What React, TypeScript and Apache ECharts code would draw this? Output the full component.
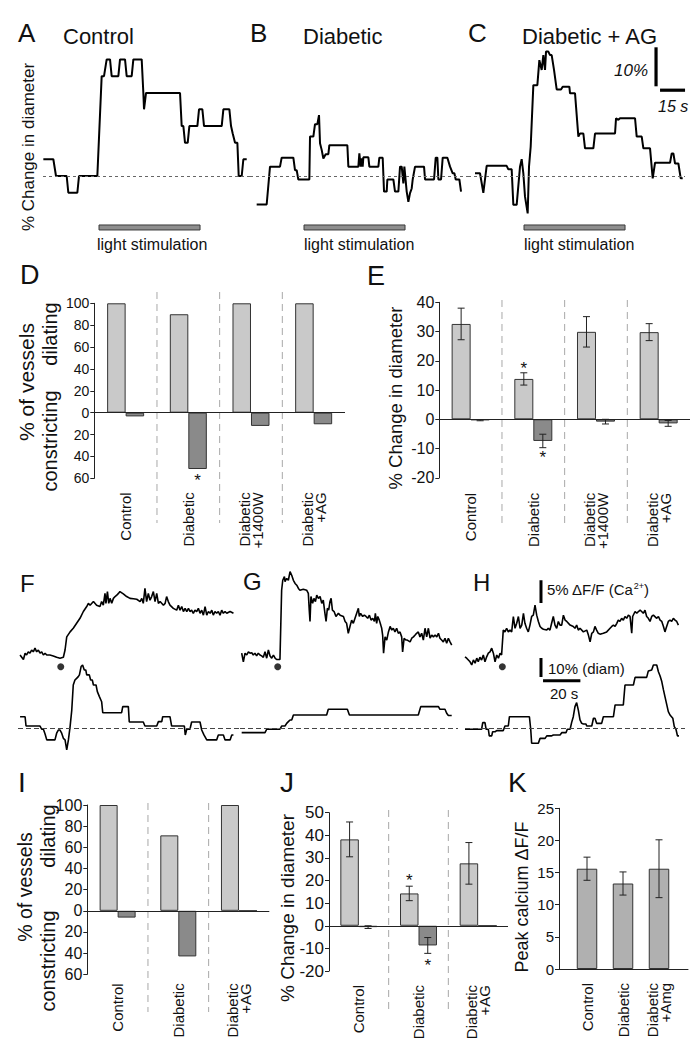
import React, { useEffect, useRef } from 'react';
import * as echarts from 'echarts';

const FONT = '"Liberation Sans", Arial, Helvetica, sans-serif';
type P = [number, number];

// ---------- A–C: diameter traces (time s, % change in diameter) ----------
const traceControl: P[] = [
  [0.2, 4.3], [6.2, 4.3], [7.8, 0], [14.2, 0], [15.2, -4.3], [20.6, -4.3], [21.6, 0], [32.6, 0],
  [35.2, 25.6], [36.6, 25.6], [38.2, 29.9], [40.2, 29.9], [41.2, 25.6], [45.2, 25.6], [46.2, 29.9],
  [49.2, 29.9], [50.2, 25.6], [53.2, 25.6], [54.2, 29.9], [59.2, 29.9], [60.2, 21.3], [60.6, 17.1],
  [61.8, 21.3], [82.2, 21.3], [83.2, 12.8], [84.2, 12.8], [85.2, 8.5], [86.8, 8.5], [87.8, 12.8],
  [92.6, 12.8], [93.6, 17.1], [95.6, 17.1], [96.6, 12.8], [107.2, 12.8], [108.2, 17.1], [111.8, 17.1],
  [112.8, 12.8], [113.8, 10.9], [115.2, 8.5], [116.6, 8.5], [117.4, 0], [119.2, 0], [120.2, 4.3], [122.2, 4.3],
];
const traceDiabetic: P[] = [
  [4, -7.3], [10, -7.3], [12, 2.4], [18, 2.4], [19, 4.7], [26, 4.7], [27, 1.5], [28, 1.5], [29, -0.9],
  [35.6, -0.9], [36, 10.1], [38, 10.1], [39, 13.3], [40.4, 13.3], [41.4, 15.6], [42, 8.4], [43, 6.7],
  [44, 4.5], [45.4, 5.6], [47, 5.6], [47.6, 7.9], [58.4, 7.9], [59, 2.4], [65, 2.4], [65.6, 5.8],
  [66.4, 2.4], [67, 4.5], [67.6, 2.4], [68, 4.8], [71, 4.8], [71.6, 2.4], [77, 2.4], [77.6, 4.7],
  [79.6, 4.7], [80.4, -4], [82, -4], [82.4, -0.9], [86, -0.9], [87, -4], [89, -4], [90, 2.4], [91, 2.4],
  [92, -1.9], [92.6, 2.4], [94, -4], [95, -6.6], [96, -4.4], [97, -3.2], [97.6, -0.9], [99, 2.4],
  [104.4, 2.4], [105, -0.9], [110.4, -0.9], [111.4, 4.7], [112.4, 4.7], [113, -0.9], [114.6, -0.9],
  [115.6, 4.7], [118.4, 4.7], [120, 2.4], [121.6, 0.7], [122.6, 0.7], [123.4, -0.9], [125.6, -0.9], [126.6, -4],
];
const traceDiabeticAG: P[] = [
  [4.2, 0.7], [7.2, 0.7], [9.2, -4.3], [11.2, 2.6], [23.2, 2.6], [24.2, 1.7], [26.2, 1.7], [27.2, -7.4],
  [29.2, -7.4], [31.2, 2.4], [32.2, 4.3], [33.2, 0.7], [34.2, -5.3], [35.8, -9.6], [36.6, 2.4], [37.6, 7.5],
  [39.2, 23.3], [41.6, 23.3], [42.8, 29.7], [44.2, 27.2], [45.2, 31.0], [46.2, 27.2], [46.8, 31.9],
  [48.2, 31.9], [49.2, 31.0], [50.2, 31.0], [51.6, 27.2], [53.2, 22.2], [55.8, 22.2], [56.8, 22.9],
  [60.8, 22.9], [61.2, 21.2], [64.2, 21.2], [66.2, 10.1], [67.2, 10.9], [69.2, 10.9], [70.2, 7.1],
  [75.2, 7.1], [76.2, 10.9], [88.2, 10.9], [88.8, 14.8], [90.2, 14.4], [91.2, 14.8], [100.2, 14.8],
  [101.2, 10.1], [104.2, 10.1], [105.2, 7.1], [109.2, 7.1], [110.8, -0.6], [112.2, 3.4], [121.2, 3.4],
  [122.2, 5.8], [123.2, 5.8], [124.2, 3.2], [126.2, 3.2], [127.6, -0.6], [128.8, -0.6],
];
const lightA = [33.6, 94.2];
const lightB = [32.4, 93.0];
const lightC = [33.6, 94.2];
const scaleDiamPct = 10; // % scale bar
const scaleTimeSec = 15; // s scale bar

// ---------- D / E ----------
const catsDE = ['Control', 'Diabetic', 'Diabetic\n+1400W', 'Diabetic\n+AG'];
const dDilating = [100, 90, 100, 100];
const dConstricting = [-3.4, -51.5, -12.1, -10.6];
const eDilMean = [32.6, 13.8, 29.9, 29.8];
const eDilErr = [5.4, 2.1, 5.2, 2.9];
const eConMean = [-0.3, -7.4, -0.8, -1.4];
const eConErr = [0.2, 2.3, 0.8, 1.0];

// ---------- F–H: calcium (ΔF/F %) and diameter (%) traces ----------
const caF: P[] = [
  [1.1, 0], [2.0, -0.5], [2.9, -1.0], [3.8, 0.4], [4.6, 0], [5.5, 0.7], [6.4, 0.4], [7.3, 1.1], [8.2, 0.7],
  [9.1, 1.5], [10.0, 0.7], [10.9, 1.1], [11.8, 0.4], [12.7, 0.7], [13.6, 0], [14.5, 0.4], [15.4, 0],
  [17.1, 0], [18.9, -0.2], [20.7, -0.5], [22.5, -0.7], [24.3, -0.5], [25.2, 1.1], [26.1, 4.0], [27.9, 5.1],
  [29.6, 5.9], [31.4, 7.0], [33.2, 8.1], [35.0, 9.6], [36.8, 10.7], [37.7, 11.4], [38.6, 11.0], [40.4, 11.8],
  [42.1, 11.0], [43.9, 10.7], [44.8, 11.8], [45.7, 11.0], [46.6, 13.6], [47.1, 11.4], [47.9, 14.0],
  [48.6, 11.4], [49.3, 12.5], [50.2, 11.4], [51.1, 12.5], [52.0, 12.9], [52.9, 13.2], [53.8, 13.6],
  [54.6, 14.0], [56.4, 13.5], [58.2, 12.9], [60.0, 12.5], [61.8, 12.4], [63.6, 12.3], [65.4, 11.8],
  [66.3, 12.5], [67.1, 11.4], [68.0, 14.7], [68.9, 11.8], [69.8, 13.6], [70.7, 12.1], [71.6, 12.9],
  [72.5, 14.0], [73.4, 11.8], [74.3, 13.6], [75.2, 11.4], [76.1, 11.8], [77.9, 11.0], [78.8, 11.4],
  [79.6, 12.9], [80.5, 11.8], [81.4, 11.0], [83.2, 10.3], [85.0, 9.9], [85.9, 11.0], [86.8, 9.9],
  [87.7, 10.7], [88.6, 9.6], [89.5, 10.3], [90.4, 9.6], [91.3, 10.3], [92.1, 9.6], [93.0, 9.9], [93.9, 9.2],
  [94.8, 9.9], [95.7, 9.6], [96.6, 10.3], [97.5, 9.2], [98.4, 9.9], [99.3, 8.8], [100.2, 10.7], [101.1, 8.8],
  [102.0, 9.6], [102.9, 9.2], [103.8, 9.9], [104.6, 8.8], [105.5, 9.6], [106.4, 9.2], [107.3, 9.6],
  [108.2, 8.8], [109.1, 9.9], [110.0, 9.2], [110.9, 9.6], [111.8, 9.2], [113.6, 9.6], [115.4, 9.2],
];
const diamF: P[] = [
  [1.1, 6.1], [3.8, 6.1], [4.3, 1.2], [11.8, 1.2], [12.7, -0.5], [13.6, -0.5], [14.5, -3.0], [15.4, -6.1],
  [19.8, -6.1], [20.7, -2.6], [21.6, -0.9], [22.5, -0.9], [23.4, -2.6], [24.3, -5.3], [25.2, -6.1],
  [26.1, -11.4], [27.0, -6.1], [27.9, 0.9], [28.8, 9.6], [29.6, 22.8], [30.5, 25.4], [31.4, 26.3],
  [32.3, 27.2], [32.9, 28.1], [33.8, 32.5], [34.6, 33.3], [35.5, 30.7], [36.3, 30.7], [36.8, 28.1],
  [38.2, 28.1], [38.9, 25.4], [39.8, 25.4], [40.4, 22.8], [41.8, 22.8], [42.5, 19.3], [43.6, 16.7],
  [44.8, 14.0], [45.4, 8.2], [55.5, 8.2], [56.1, 11.4], [59.1, 11.4], [59.6, 3.3], [67.1, 3.3], [68.0, 1.2],
  [74.3, 1.2], [75.2, 3.5], [77.0, 3.5], [77.5, 6.1], [81.4, 6.1], [82.3, 1.2], [89.1, 1.2], [89.6, -3.5],
  [90.4, -0.5], [92.1, -0.5], [93.0, 3.3], [97.5, 3.3], [98.4, -0.9], [99.6, -3.5], [101.1, -6.1],
  [106.4, -6.1], [107.3, -3.5], [110.0, -3.5], [110.9, -6.1], [113.6, -6.1], [114.5, -3.5], [115.4, -3.5],
];
const caG: P[] = [
  [0.9, 0.4], [1.8, -1.5], [2.7, 0.4], [3.6, 0], [4.5, 0.7], [5.4, 0.4], [6.3, 0.5], [7.1, 0], [8.0, 0.4],
  [8.9, -0.2], [9.8, 0.4], [10.7, 0], [11.6, -0.2], [12.5, -0.5], [13.4, 0.7], [14.3, -0.7], [15.2, 1.1],
  [16.1, -0.2], [17.0, -0.7], [17.9, 0], [18.8, -0.7], [19.6, -1.0], [21.4, -1.0], [22.3, 14.3], [22.9, 16.5],
  [23.8, 17.3], [24.1, 16.2], [25.0, 16.9], [25.9, 16.5], [26.8, 18.4], [27.7, 17.6], [28.6, 16.5],
  [29.5, 15.8], [30.4, 15.4], [31.3, 14.7], [32.1, 14.3], [33.9, 14.5], [35.7, 14.3], [36.6, 13.6],
  [37.1, 9.9], [37.5, 7.4], [38.0, 12.9], [38.9, 11.4], [39.6, 12.5], [40.4, 11.8], [41.1, 13.2],
  [42.0, 12.5], [42.9, 12.9], [43.8, 11.4], [44.6, 12.1], [45.5, 9.2], [46.1, 7.4], [46.8, 10.3],
  [47.5, 9.9], [48.2, 11.8], [48.8, 12.5], [49.5, 9.9], [50.4, 9.6], [51.4, 8.5], [52.7, 9.2], [53.6, 8.8],
  [55.4, 8.5], [56.3, 7.4], [57.1, 7.0], [58.0, 4.8], [58.9, 6.3], [59.8, 7.7], [60.7, 7.0], [61.6, 8.1],
  [62.5, 9.2], [63.4, 10.3], [63.9, 8.5], [64.6, 9.2], [65.7, 8.5], [66.6, 8.8], [67.5, 8.5], [68.4, 8.1],
  [69.3, 8.8], [70.2, 7.7], [71.1, 8.1], [72.0, 7.4], [72.5, 9.2], [73.2, 7.0], [73.8, 8.5], [74.6, 7.7],
  [75.4, 6.6], [75.9, 5.9], [76.4, 4.4], [76.9, 0.4], [77.7, 4.0], [78.6, 3.3], [79.5, 5.1], [80.4, 6.3],
  [81.3, 5.5], [82.1, 5.9], [83.0, 5.1], [83.9, 5.9], [84.8, 4.8], [85.7, 5.1], [86.6, 4.0], [87.1, 0.7],
  [87.9, 3.7], [88.8, 3.3], [89.6, 3.3], [91.1, 2.9], [92.0, 3.7], [92.9, 4.0], [93.8, 4.4], [94.6, 4.8],
  [95.5, 5.1], [96.4, 4.0], [97.3, 4.8], [98.2, 3.3], [99.1, 5.9], [100.0, 4.0], [100.9, 5.9], [101.8, 3.7],
  [102.7, 4.4], [103.6, 4.0], [104.5, 4.4], [105.4, 4.0], [106.3, 4.8], [107.1, 3.7], [108.0, 3.3],
  [108.9, 2.9], [109.8, 3.7], [110.7, 2.6], [111.6, 3.7], [112.5, 2.9], [113.4, 2.2],
];
const diamG: P[] = [
  [0.9, -2.3], [13.4, -2.3], [14.3, -0.5], [21.4, -0.5], [22.3, 1.2], [24.1, 1.2], [25.0, 2.6], [25.9, 3.5],
  [26.8, 4.4], [27.7, 4.4], [28.6, 7.0], [46.4, 7.0], [47.3, 10.0], [57.5, 10.0], [58.6, 7.0], [95.5, 7.0],
  [96.8, 11.4], [106.3, 11.4], [107.1, 10.0], [109.8, 10.0], [110.7, 7.9], [111.6, 6.7], [113.4, 6.7],
];
const caH: P[] = [
  [0, -0.4], [0.9, -0.7], [1.8, -1.1], [2.7, -1.5], [3.6, -2.2], [4.5, -1.1], [5.4, -1.8], [6.3, -0.7],
  [7.1, -1.5], [8.0, -0.5], [8.9, -1.1], [9.8, 0], [10.7, -1.5], [11.6, -0.4], [12.5, 0.4], [13.4, 0.7],
  [14.3, 1.5], [15.2, 0.4], [16.1, -1.5], [17.0, 0], [17.9, -0.7], [18.8, 0.4], [19.6, 0], [20.5, 5.5],
  [21.4, 5.1], [22.3, 5.9], [23.2, 5.1], [24.1, 5.5], [25.0, 5.1], [25.9, 8.5], [26.8, 5.9], [27.7, 7.0],
  [28.6, 8.5], [29.5, 5.9], [30.4, 6.6], [31.3, 9.2], [32.1, 7.0], [33.0, 5.9], [33.9, 5.1], [34.8, 6.6],
  [35.7, 8.5], [36.6, 8.8], [37.5, 11.0], [38.4, 8.8], [39.3, 7.4], [40.2, 6.3], [41.1, 5.9], [42.0, 5.7],
  [43.8, 5.5], [44.6, 5.9], [45.5, 5.5], [46.4, 7.0], [47.3, 8.5], [48.2, 6.6], [49.1, 5.9], [50.0, 7.4],
  [50.9, 6.6], [51.8, 6.6], [52.7, 8.8], [53.6, 7.7], [54.5, 7.4], [56.3, 6.6], [58.0, 6.3], [58.9, 5.9],
  [59.8, 6.6], [60.7, 5.5], [61.6, 5.9], [63.4, 5.1], [65.2, 5.5], [66.1, 4.4], [67.0, 2.9], [67.9, 4.8],
  [68.8, 5.1], [69.6, 6.3], [70.5, 5.5], [71.4, 4.8], [72.3, 4.6], [74.1, 4.8], [75.9, 5.1], [77.7, 5.9],
  [78.6, 6.3], [79.5, 6.6], [80.4, 6.3], [81.3, 7.0], [82.1, 7.7], [83.0, 7.4], [83.9, 8.1], [84.8, 7.7],
  [85.7, 8.5], [86.6, 8.1], [87.5, 8.8], [88.4, 8.5], [89.3, 4.8], [89.8, 8.5], [91.1, 9.6], [92.0, 9.2],
  [92.9, 9.6], [93.8, 9.9], [94.6, 9.6], [95.5, 9.2], [96.4, 9.9], [97.3, 8.5], [98.2, 8.1], [99.1, 7.4],
  [100.0, 8.5], [100.9, 8.8], [102.7, 8.1], [103.6, 8.5], [104.5, 7.7], [105.4, 7.4], [106.3, 6.3],
  [107.1, 5.1], [107.7, 5.9], [108.9, 7.4], [109.8, 7.7], [110.7, 7.4], [111.6, 8.1], [112.5, 7.7],
  [113.4, 7.4], [114.3, 6.6],
];
const diamH: P[] = [
  [0, -0.5], [8.9, -0.5], [9.5, 3.0], [10.7, 3.0], [11.3, -0.5], [12.5, -0.5], [13.0, -4.0], [14.3, -4.0],
  [14.8, -1.8], [16.1, -1.8], [17.0, -1.2], [20.5, -1.2], [21.4, 1.2], [23.2, 1.2], [23.8, 6.1], [34.5, 6.1],
  [35.2, -0.5], [35.7, -7.9], [39.3, -7.9], [40.2, -5.3], [42.9, -5.3], [43.8, -4.0], [46.4, -4.0],
  [47.3, -3.5], [50.9, -3.5], [51.8, -2.3], [54.1, -2.3], [54.8, -0.5], [56.3, -0.5], [57.1, 3.0],
  [58.0, 6.1], [58.9, 11.4], [59.8, 13.5], [60.7, 9.6], [61.6, 4.4], [62.5, 2.6], [63.4, 2.3], [64.8, 2.3],
  [65.2, 1.2], [67.9, 1.2], [68.8, 5.3], [69.6, 5.3], [70.5, 2.6], [73.2, 2.6], [74.1, 6.1], [79.5, 6.1],
  [80.4, 12.3], [84.8, 12.3], [85.7, 22.8], [90.2, 22.8], [91.1, 26.8], [97.3, 26.8], [98.2, 30.2],
  [100.0, 30.7], [100.9, 33.3], [102.7, 33.3], [103.6, 29.8], [104.5, 27.5], [105.4, 24.6], [106.3, 20.2],
  [107.1, 16.7], [108.9, 8.8], [109.8, 7.0], [111.3, 5.3], [112.1, 0.9], [113.0, -0.5], [113.8, -4.0], [114.6, -4.0],
];
const stimF: P = [22.9, -2.6];
const stimG: P = [20.2, -2.6];
const stimH: P = [20.0, -2.6];
const scaleCaPct = 5;
const scaleDiamPctH = 10;
const scaleTimeSecH = 20;

// ---------- I / J / K ----------
const catsIJ = ['Control', 'Diabetic', 'Diabetic\n+AG'];
const iDilating = [100, 71.3, 100];
const iConstricting = [-6.4, -43.1, 0];
const jDilMean = [38.2, 14.3, 27.6];
const jDilErr = [7.7, 3.2, 9.2];
const jConMean = [-0.6, -8.7, 0];
const jConErr = [0.6, 3.5, 0];
const catsK = ['Control', 'Diabetic', 'Diabetic\n+Amg'];
const kMean = [15.6, 13.3, 15.6];
const kErr = [1.8, 1.8, 4.5];

// ---------------------------------------------------------------
const LIGHT = '#c9c9c9';
const DARK = '#8a8a8a';
const KFILL = '#b0b0b0';
const EDGE = '#333';
const INK = '#111';

function buildOption() {
  const grid: any[] = [];
  const xAxis: any[] = [];
  const yAxis: any[] = [];
  const series: any[] = [];
  const graphic: any[] = [];

  const hidden = (min: number, max: number) => ({ type: 'value', min, max, show: false });
  const addGrid = (rect: any, x: any, y: any) => {
    const i = grid.length;
    grid.push({ ...rect, containLabel: false });
    xAxis.push({ gridIndex: i, ...x });
    yAxis.push({ gridIndex: i, ...y });
    return i;
  };
  const txt = (text: string, x: number, y: number, size: number, o: any = {}) => {
    graphic.push({
      type: 'text', x, y, rotation: o.rot || 0, silent: true,
      style: {
        text, fontSize: size, fontFamily: FONT, fill: INK,
        align: o.align || 'left', verticalAlign: 'middle',
        fontStyle: o.italic ? 'italic' : 'normal', rich: o.rich,
      },
    });
  };
  const line = (i: number, data: any[], width: number, base?: any) => {
    const s: any = {
      type: 'line', xAxisIndex: i, yAxisIndex: i, data, symbol: 'none', silent: true, z: 4,
      lineStyle: { color: '#000', width, cap: 'butt' },
    };
    if (base) {
      s.markLine = {
        symbol: ['none', 'none'], silent: true, label: { show: false },
        lineStyle: { color: base.color, width: 1, type: base.dash }, data: [{ yAxis: 0 }],
      };
    }
    series.push(s);
  };
  const lightBar = (i: number, span: number[], level: number) => {
    series.push({
      type: 'custom', xAxisIndex: i, yAxisIndex: i, data: [span], silent: true,
      renderItem: (_p: any, api: any) => {
        const a = api.coord([api.value(0), level]);
        const b = api.coord([api.value(1), level]);
        return {
          type: 'rect', shape: { x: a[0], y: a[1] - 2.5, width: b[0] - a[0], height: 5 },
          style: { fill: '#8e8e8e', stroke: '#3a3a3a', lineWidth: 1 },
        };
      },
    });
  };

  // ---------------- A–C ----------------
  const pxSec1 = 1.667;
  const topRect = (left: number, width: number) => ({ left, top: 39.5, width, height: 195 });
  const baseTop = { color: '#666', dash: [3, 3] };
  const gA = addGrid(topRect(43, 207), hidden(0, 207 / pxSec1), hidden(-15, 35));
  const gB = addGrid(topRect(250, 218), hidden(0, 218 / pxSec1), hidden(-15, 35));
  const gC = addGrid(topRect(468, 217), hidden(0, 217 / pxSec1), hidden(-15, 35));
  line(gA, traceControl, 2, baseTop);
  line(gB, traceDiabetic, 2, baseTop);
  line(gC, traceDiabeticAG, 2, baseTop);
  lightBar(gA, lightA, -13.2);
  lightBar(gB, lightB, -13.2);
  lightBar(gC, lightC, -13.2);
  line(gC, [[112.8, 23], [112.8, 23 + scaleDiamPct]], 3.2);
  line(gC, [[115.2, 22], [115.2 + scaleTimeSec, 22]], 3.2);

  txt('A', 18, 33, 26);
  txt('Control', 63, 36, 22);
  txt('B', 250, 33, 26);
  txt('Diabetic', 303, 36, 22);
  txt('C', 468, 33, 26);
  txt('Diabetic + AG', 522, 36, 22);
  txt('% Change in diameter', 28, 147, 17, { rot: Math.PI / 2, align: 'center' });
  txt('light stimulation', 97, 244, 16);
  txt('light stimulation', 304, 244, 16);
  txt('light stimulation', 524, 244, 16);
  txt('10%', 648, 70, 17, { italic: true, align: 'right' });
  txt('15 s', 658, 106, 16, { italic: true });

  // ---------------- bar panel helpers ----------------
  const yAx = (min: number, max: number, interval: number, size: number, abs = false, offset = 0) => ({
    type: 'value', min, max, interval, offset,
    axisLine: { show: true, onZero: false, lineStyle: { color: '#222', width: 1 } },
    axisTick: { show: true, length: 4, lineStyle: { color: '#222' } },
    splitLine: { show: false },
    axisLabel: {
      fontSize: size, fontFamily: FONT, color: INK, margin: 5,
      formatter: abs ? (v: number) => String(Math.abs(v)) : undefined,
    },
  });
  const xCat = (cats: string[], margin: number) => ({
    type: 'category', data: cats,
    axisLine: { show: false, onZero: false }, axisTick: { show: false },
    axisLabel: { rotate: 90, margin, interval: 0, fontSize: 15, fontFamily: FONT, color: INK, lineHeight: 13 },
  });
  const bars = (i: number, data: number[], color: string, width: number, zero = false) => {
    const s: any = {
      type: 'bar', xAxisIndex: i, yAxisIndex: i, data, barWidth: width, barGap: '0%', silent: true,
      itemStyle: { color, borderColor: EDGE, borderWidth: 1 }, z: 2,
    };
    if (zero) {
      s.markLine = {
        symbol: ['none', 'none'], silent: true, label: { show: false },
        lineStyle: { color: '#222', width: 1, type: 'solid' }, data: [{ yAxis: 0 }],
      };
    }
    series.push(s);
  };
  const errBars = (i: number, mean: number[], err: number[], offset: number) => {
    const data = mean.map((m, k) => [k, m - err[k], m + err[k]]).filter((d, k) => err[k] > 0);
    series.push({
      type: 'custom', xAxisIndex: i, yAxisIndex: i, data, silent: true, z: 5,
      renderItem: (_p: any, api: any) => {
        const lo = api.coord([api.value(0), api.value(1)]);
        const hi = api.coord([api.value(0), api.value(2)]);
        const cx = lo[0] + offset;
        const st = { stroke: '#222', lineWidth: 1 };
        return {
          type: 'group', children: [
            { type: 'line', shape: { x1: cx, y1: lo[1], x2: cx, y2: hi[1] }, style: st },
            { type: 'line', shape: { x1: cx - 3.5, y1: hi[1], x2: cx + 3.5, y2: hi[1] }, style: st },
            { type: 'line', shape: { x1: cx - 3.5, y1: lo[1], x2: cx + 3.5, y2: lo[1] }, style: st },
          ],
        };
      },
    });
  };
  const stars = (i: number, data: number[][], offset: number, gap: number) => {
    series.push({
      type: 'custom', xAxisIndex: i, yAxisIndex: i, data, silent: true, z: 6,
      renderItem: (_p: any, api: any) => {
        const p = api.coord([api.value(0), api.value(1)]);
        return {
          type: 'text', x: p[0] + offset, y: p[1] + gap,
          style: { text: '*', fontSize: 17, fontFamily: FONT, fill: INK, align: 'center', verticalAlign: 'middle' },
        };
      },
    });
  };
  const separators = (rect: any, n: number) => {
    const i = addGrid(rect, hidden(-0.5, n - 0.5), hidden(0, 1));
    const seps = [];
    for (let k = 0; k < n - 1; k++) seps.push([k + 0.5, 0]);
    series.push({
      type: 'custom', xAxisIndex: i, yAxisIndex: i, data: seps, silent: true,
      renderItem: (p: any, api: any) => {
        const x = api.coord([api.value(0), 0])[0];
        const cs = p.coordSys;
        return {
          type: 'line', shape: { x1: x, y1: cs.y, x2: x, y2: cs.y + cs.height },
          style: { stroke: '#a8a8a8', lineWidth: 1, lineDash: [7, 5] },
        };
      },
    });
  };

  // ---------------- D ----------------
  separators({ left: 94.3, top: 292, width: 250.7, height: 231 }, 4);
  const gD = addGrid({ left: 94.3, top: 303.3, width: 250.7, height: 175 }, xCat(catsDE, 14), yAx(-60, 100, 20, 14, true));
  bars(gD, dDilating, LIGHT, 18.5, true);
  bars(gD, dConstricting, DARK, 18.5);
  stars(gD, [[1, dConstricting[1]]], 9.25, 11);
  txt('D', 20, 275, 27);
  txt('% of vessels', 26, 382, 21, { rot: Math.PI / 2, align: 'center' });
  txt('dilating', 50, 334, 20, { rot: Math.PI / 2, align: 'center' });
  txt('constricting', 50, 441, 20, { rot: Math.PI / 2, align: 'center' });

  // ---------------- E ----------------
  separators({ left: 439.3, top: 300, width: 250.7, height: 223 }, 4);
  const gE = addGrid({ left: 439.3, top: 302.3, width: 250.7, height: 175.5 }, xCat(catsDE, 15), yAx(-20, 40, 10, 16));
  bars(gE, eDilMean, LIGHT, 19, true);
  bars(gE, eConMean, DARK, 19);
  errBars(gE, eDilMean, eDilErr, -9.5);
  errBars(gE, eConMean, eConErr, 9.5);
  stars(gE, [[1, eDilMean[1] + eDilErr[1]]], -9.5, -4);
  stars(gE, [[1, eConMean[1] - eConErr[1]]], 9.5, 10);
  txt('E', 367, 276, 27);
  txt('% Change in diameter', 395, 398, 18.5, { rot: Math.PI / 2, align: 'center' });

  // ---------------- F–H ----------------
  const pxSec2 = 1.867;
  const caRect = (left: number, width: number) => ({ left, top: 564.4, width, height: 135.9 });
  const dRect = (left: number, width: number) => ({ left, top: 652.3, width, height: 114 });
  const baseMid = { color: '#444', dash: [5, 3] };
  const panelsFH: [number, number, P[], P[], P][] = [
    [18, 222, caF, diamF, stimF],
    [240, 218, caG, diamG, stimG],
    [465, 220, caH, diamH, stimH],
  ];
  const fhIdx: number[][] = [];
  panelsFH.forEach(([left, width, ca, dm, stim]) => {
    const gc = addGrid(caRect(left, width), hidden(0, width / pxSec2), hidden(-10, 20));
    const gd = addGrid(dRect(left, width), hidden(0, width / pxSec2), hidden(-20, 40));
    line(gc, ca, 1.6);
    line(gd, dm, 1.6, baseMid);
    series.push({
      type: 'scatter', xAxisIndex: gc, yAxisIndex: gc, data: [stim], symbolSize: 7, silent: true,
      itemStyle: { color: '#000' },
    });
    fhIdx.push([gc, gd]);
  });
  const [hc, hd] = fhIdx[2];
  line(hc, [[40.7, 11.5], [40.7, 11.5 + scaleCaPct]], 3);
  line(hd, [[40.7, 27], [40.7, 27 + scaleDiamPctH]], 3);
  line(hd, [[41.8, 25], [41.8 + scaleTimeSecH, 25]], 3);
  txt('F', 20, 583, 24);
  txt('G', 243, 581, 24);
  txt('H', 473, 582, 24);
  txt('5% ΔF/F (Ca{s|2+})', 547, 589, 15, { rich: { s: { fontSize: 9, fontFamily: FONT, fill: INK, verticalAlign: 'top', padding: [0, 0, 7, 0] } } });
  txt('10% (diam)', 548, 668, 15);
  txt('20 s', 550, 693, 15);

  // ---------------- I ----------------
  separators({ left: 87.3, top: 803, width: 182, height: 209 }, 3);
  const gI = addGrid({ left: 87.3, top: 805, width: 182, height: 169.3 }, xCat(catsIJ, 9), yAx(-60, 100, 20, 16, true));
  bars(gI, iDilating, LIGHT, 18, true);
  bars(gI, iConstricting, DARK, 18);
  txt('I', 18, 782, 28);
  txt('% of vessels', 25, 887, 19.5, { rot: Math.PI / 2, align: 'center' });
  txt('dilating', 48, 836, 20, { rot: Math.PI / 2, align: 'center' });
  txt('constricting', 48, 961, 20, { rot: Math.PI / 2, align: 'center' });

  // ---------------- J ----------------
  separators({ left: 329, top: 810, width: 179, height: 202 }, 3);
  const gJ = addGrid({ left: 329, top: 812.7, width: 179, height: 158.3 }, xCat(catsIJ, 14), yAx(-20, 50, 10, 17));
  bars(gJ, jDilMean, LIGHT, 18.5, true);
  bars(gJ, jConMean, DARK, 18.5);
  errBars(gJ, jDilMean, jDilErr, -9.25);
  errBars(gJ, jConMean, jConErr, 9.25);
  stars(gJ, [[1, jDilMean[1] + jDilErr[1]]], -9.25, -6);
  stars(gJ, [[1, jConMean[1] - jConErr[1]]], 9.25, 12);
  txt('J', 280, 782, 28);
  txt('% Change in diameter', 287, 908, 19, { rot: Math.PI / 2, align: 'center' });

  // ---------------- K ----------------
  addGrid(
    { left: 559, top: 808.3, width: 129, height: 160.7 },
    {
      type: 'value', min: 0, max: 1, position: 'bottom',
      axisLine: { show: true, onZero: false, lineStyle: { color: '#222', width: 1 } },
      axisTick: { show: false }, axisLabel: { show: false }, splitLine: { show: false },
    },
    hidden(0, 1),
  );
  const gK = addGrid({ left: 569, top: 808.3, width: 108, height: 160.7 }, xCat(catsK, 14), yAx(0, 25, 5, 15, false, 10));
  series.push({
    type: 'bar', xAxisIndex: gK, yAxisIndex: gK, data: kMean, barWidth: 20.5, silent: true, z: 2,
    itemStyle: { color: KFILL, borderColor: EDGE, borderWidth: 1 },
  });
  errBars(gK, kMean, kErr, 0);
  txt('K', 508, 782, 28);
  txt('Peak calcium ΔF/F', 522, 897, 18, { rot: Math.PI / 2, align: 'center' });

  return {
    animation: false,
    backgroundColor: '#fff',
    grid, xAxis, yAxis, series, graphic,
  };
}

export default function App() {
  const ref = useRef<HTMLDivElement>(null);
  useEffect(() => {
    const chart = echarts.init(ref.current!, null, { renderer: 'svg' });
    chart.setOption(buildOption() as any);
    return () => chart.dispose();
  }, []);
  return (
    <div
      ref={ref}
      style={{ position: 'absolute', left: 0, top: 0, width: 699, height: 1050, background: '#fff' }}
    />
  );
}
